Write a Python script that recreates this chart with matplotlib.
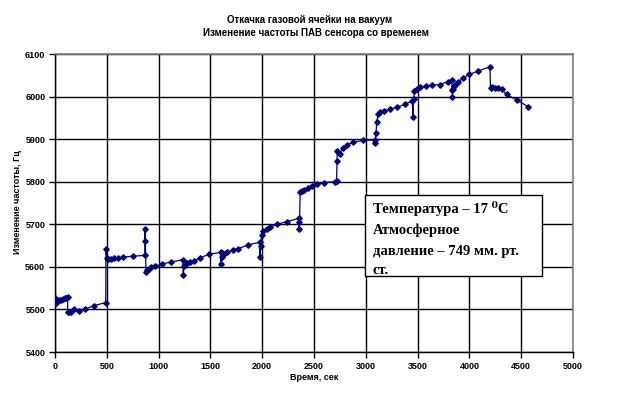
import matplotlib
matplotlib.use("Agg")
import matplotlib.pyplot as plt
from matplotlib.patches import Rectangle

# ---- data ----
time_s = [0, 12, 25, 40, 55, 75, 95, 110, 122,
          122, 138, 155, 185, 230, 285, 375, 490,
          492, 500, 515, 540, 565, 605, 660, 750, 866,
          868, 870, 878, 888, 907, 926, 965, 1030, 1120,
          1232, 1238, 1245, 1270, 1300, 1340, 1400, 1490,
          1598, 1603, 1608, 1612, 1630, 1657, 1715, 1769, 1860,
          1975, 1978, 1985, 1995, 2011, 2044, 2076, 2140, 2238,
          2352, 2354, 2360, 2367, 2380, 2400, 2440, 2480, 2530, 2600, 2700,
          2718, 2722, 2725, 2750, 2776, 2815, 2879, 2975, 3085,
          3088, 3100, 3104, 3120, 3140, 3180, 3230, 3300, 3380, 3450,
          3455, 3462, 3470, 3490, 3520, 3580, 3640, 3715, 3790,
          3828, 3834, 3836, 3840, 3850, 3870, 3892, 3934, 3999, 4085,
          4198, 4204, 4214, 4246, 4278, 4310, 4359, 4456, 4569]
freq_hz = [5526, 5516, 5520, 5521, 5522, 5524, 5526, 5527, 5529,
           5493, 5493, 5493, 5501, 5497, 5500, 5509, 5516,
           5643, 5621, 5619, 5619, 5620, 5621, 5623, 5625, 5627,
           5660, 5688, 5589, 5592, 5596, 5599, 5601, 5607, 5611,
           5617, 5581, 5603, 5609, 5612, 5614, 5621, 5630,
           5634, 5607, 5622, 5632, 5630, 5634, 5640, 5643, 5651,
           5658, 5624, 5650, 5676, 5684, 5689, 5693, 5700, 5706,
           5714, 5690, 5705, 5775, 5778, 5781, 5785, 5790, 5795, 5798, 5800,
           5802, 5848, 5871, 5865, 5880, 5886, 5893, 5897, 5898,
           5890, 5915, 5940, 5958, 5964, 5967, 5970, 5975, 5982, 5990,
           5952, 5995, 6012, 6018, 6022, 6025, 6027, 6028, 6035,
           6039, 6016, 5999, 6018, 6026, 6030, 6034, 6043, 6052, 6060,
           6070, 6019, 6022, 6019, 6019, 6017, 6005, 5992, 5976]

x_ticks = [0, 500, 1000, 1500, 2000, 2500, 3000, 3500, 4000, 4500, 5000]
y_ticks = [5400, 5500, 5600, 5700, 5800, 5900, 6000, 6100]

title_lines = ["Откачка газовой ячейки на вакуум",
               "Изменение частоты ПАВ сенсора со временем"]
x_label = "Время, сек"
y_label = "Изменение частоты, Гц"
note_lines = ["Температура – 17 \u2070C", "Атмосферное",
              "давление – 749 мм. рт.", "ст."]

# ---- figure ----
W, H = 644, 394
fig = plt.figure(figsize=(W / 100, H / 100), dpi=100)
fig.patch.set_facecolor("white")
L, R, T, B = 55, 573, 54, 352
ax = fig.add_axes([L / W, 1 - B / H, (R - L) / W, (B - T) / H])

navy = "#000080"
ax.plot(time_s, freq_hz, color=navy, lw=0.9, marker="D", ms=2.8,
        mfc=navy, mec=navy, zorder=3)

ax.set_xlim(0, 5000)
ax.set_ylim(5400, 6100)
ax.set_xticks(x_ticks)
ax.set_yticks(y_ticks)
ax.grid(True, color="black", lw=1.0, zorder=0)
ax.set_axisbelow(True)

for s in ["top", "right"]:
    ax.spines[s].set_color("#808080")
    ax.spines[s].set_linewidth(1.2)
for s in ["left", "bottom"]:
    ax.spines[s].set_color("black")
    ax.spines[s].set_linewidth(1.0)

tick_font = dict(family="Liberation Sans", weight="bold", size=6.5)
ax.tick_params(axis="both", direction="out", length=4, width=1, color="black",
               pad=3)
ax.set_xticklabels([str(v) for v in x_ticks], **tick_font)
ax.set_yticklabels([str(v) for v in y_ticks], **tick_font)

fig.text(310 / W, 1 - 20 / H, title_lines[0], ha="center", va="center",
         family="Liberation Sans", weight="bold", size=7)
fig.text(316 / W, 1 - 33 / H, title_lines[1], ha="center", va="center",
         family="Liberation Sans", weight="bold", size=7)
fig.text(314 / W, 1 - 377 / H, x_label, ha="center", va="center",
         family="Liberation Sans", weight="bold", size=6.5)
fig.text(18 / W, 1 - 202 / H, y_label, ha="center", va="center",
         rotation=90, family="Liberation Sans", weight="bold", size=6.5)

# note box
bx0, by0, bx1, by1 = 365, 195, 542, 276
rect = Rectangle((bx0 / W, 1 - by1 / H), (bx1 - bx0) / W, (by1 - by0) / H,
                 transform=fig.transFigure, facecolor="white",
                 edgecolor="black", lw=1.0, zorder=5)
fig.patches.append(rect)
line_y = [209, 230, 251, 271]
for txt, yy in zip(note_lines, line_y):
    fig.text(373 / W, 1 - yy / H, txt, ha="left", va="center",
             family=["Liberation Serif", "DejaVu Serif"], weight="bold",
             size=10.5, zorder=6)

fig.savefig("out.png", dpi=100, facecolor="white")
